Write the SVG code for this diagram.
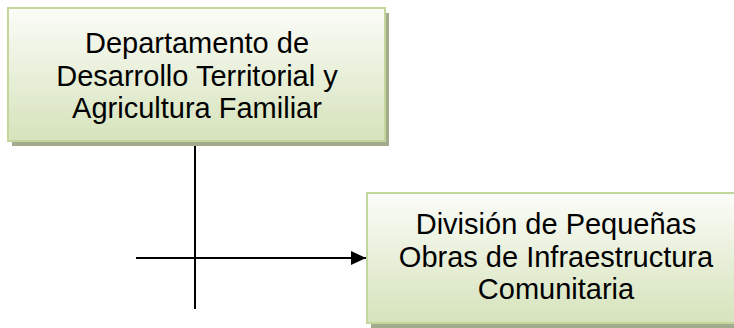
<svg xmlns="http://www.w3.org/2000/svg" width="734" height="328" viewBox="0 0 734 328">
<defs>
<linearGradient id="g" x1="0" y1="0" x2="0" y2="1">
<stop offset="0" stop-color="#fbfcf8"/>
<stop offset="1" stop-color="#d6e3bb"/>
</linearGradient>
<marker id="arr" markerWidth="16" markerHeight="14" refX="15" refY="7" orient="auto" markerUnits="userSpaceOnUse">
<path d="M0,0 L15,7 L0,14 Z" fill="#000"/>
</marker>
</defs>
<style>
.shadow{fill:#a3ab8e}
.box{fill:url(#g);stroke:#c3d69b;stroke-width:2}
.t{font-family:"Liberation Sans",Arial,sans-serif;font-size:29px;fill:#000;text-anchor:middle}
.c{stroke:#000;stroke-width:2;fill:none}
</style>
<g id="node1">
<rect class="shadow" x="12" y="13" width="377" height="133"/>
<rect class="box" x="8" y="8" width="377" height="133"/>
<text class="t" x="197" y="53">Departamento de</text>
<text class="t" x="197" y="86">Desarrollo Territorial y</text>
<text class="t" x="197" y="118">Agricultura Familiar</text>
</g>
<g id="node2">
<rect class="shadow" x="371" y="198" width="380" height="130"/>
<rect class="box" x="367" y="193" width="380" height="130"/>
<text class="t" x="556" y="234">División de Pequeñas</text>
<text class="t" x="556" y="267">Obras de Infraestructura</text>
<text class="t" x="556" y="299">Comunitaria</text>
</g>
<g id="connectors">
<line class="c" x1="195" y1="146" x2="195" y2="309"/>
<line class="c" x1="136" y1="258" x2="366" y2="258" marker-end="url(#arr)"/>
</g>
</svg>
